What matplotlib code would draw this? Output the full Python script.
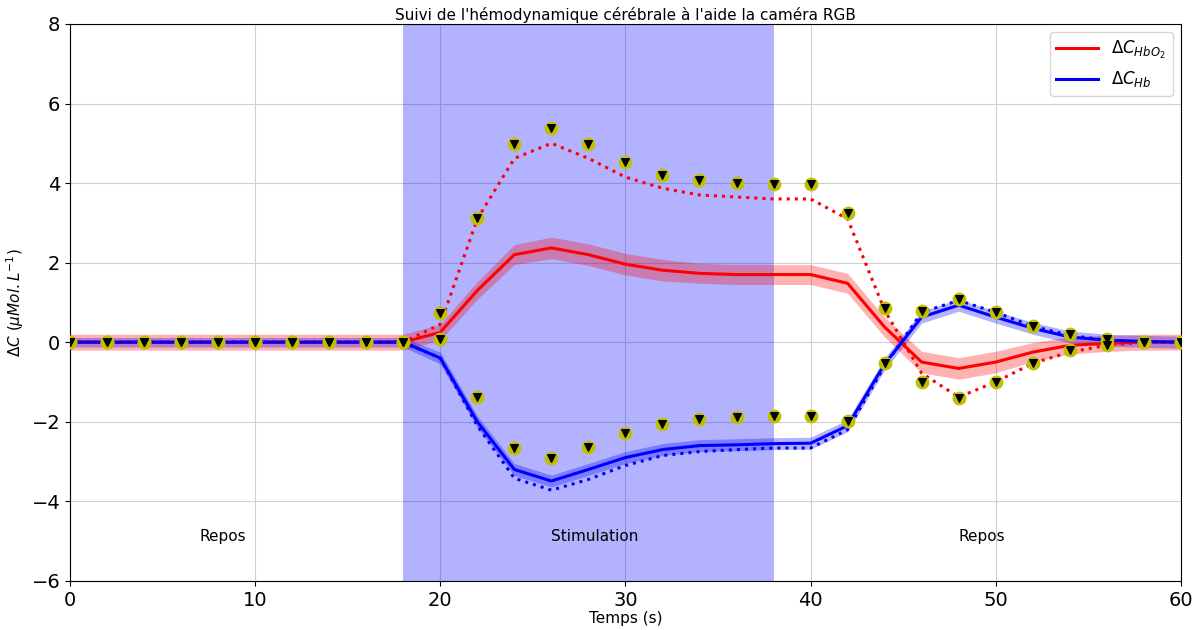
import numpy as np
import matplotlib
matplotlib.use('Agg')
import matplotlib.pyplot as plt

# temps (s), un point toutes les 2 s
temps = np.arange(0, 61, 2)

# moyenne HbO2 / Hb (traits pleins)
hbo2_moy = [0, 0, 0, 0, 0, 0, 0, 0, 0, 0,
            0.25, 1.3, 2.2, 2.37, 2.2, 1.96, 1.81, 1.73, 1.7, 1.7,
            1.7, 1.48, 0.38, -0.5, -0.66, -0.5, -0.25, -0.08, -0.03, 0, 0]
hb_moy = [0, 0, 0, 0, 0, 0, 0, 0, 0, 0,
          -0.4, -2.0, -3.2, -3.49, -3.2, -2.9, -2.7, -2.6, -2.58, -2.55,
          -2.54, -2.1, -0.55, 0.63, 0.93, 0.63, 0.35, 0.13, 0.05, 0.02, 0]
# ecart-type (bande)
hbo2_std = [0.2] * 10 + [0.2, 0.22, 0.25, 0.27, 0.27, 0.27, 0.27, 0.25, 0.25, 0.25,
                         0.25, 0.25, 0.25, 0.27, 0.27, 0.27, 0.24, 0.22, 0.2, 0.2, 0.2]
hb_std = [0.12] * 10 + [0.15] * 21

# modele (pointilles)
hbo2_mod = [0, 0, 0, 0, 0, 0, 0, 0, 0, 0,
            0.45, 3.1, 4.62, 5.0, 4.62, 4.15, 3.87, 3.7, 3.65, 3.6,
            3.6, 3.1, 0.8, -0.78, -1.38, -1.0, -0.53, -0.25, -0.08, 0, 0]
hb_mod = [0, 0, 0, 0, 0, 0, 0, 0, 0, 0,
          -0.4, -2.1, -3.42, -3.72, -3.45, -3.1, -2.85, -2.75, -2.7, -2.66,
          -2.66, -2.2, -0.6, 0.75, 1.05, 0.75, 0.4, 0.17, 0.05, 0, 0]

# mesures camera RGB (marqueurs)
hbo2_rgb = [0, 0, 0, 0, 0, 0, 0, 0, 0, 0,
            0.73, 3.12, 4.97, 5.38, 4.97, 4.52, 4.2, 4.07, 4.0, 3.97,
            3.97, 3.24, 0.85, -1.0, -1.41, -1.0, -0.53, -0.2, -0.08, 0, 0]
hb_rgb = [0, 0, 0, 0, 0, 0, 0, 0, 0, 0,
          0.07, -1.38, -2.66, -2.92, -2.63, -2.28, -2.06, -1.92, -1.88, -1.85,
          -1.85, -1.98, -0.53, 0.78, 1.08, 0.75, 0.4, 0.2, 0.07, 0, 0]

stim_debut, stim_fin = 18, 38
phases = ['Repos', 'Stimulation', 'Repos']
phases_x = [7, 26, 48]

fig = plt.figure(figsize=(11.97, 6.3), dpi=100)
ax = fig.add_axes([0.0585, 0.078, 0.928, 0.884])

ax.axvspan(stim_debut, stim_fin, color='blue', alpha=0.3, lw=0)

hbo2_moy = np.array(hbo2_moy)
hb_moy = np.array(hb_moy)
hbo2_std = np.array(hbo2_std)
hb_std = np.array(hb_std)

ax.fill_between(temps, hbo2_moy - hbo2_std, hbo2_moy + hbo2_std, color='red', alpha=0.3, lw=0)
ax.fill_between(temps, hb_moy - hb_std, hb_moy + hb_std, color='blue', alpha=0.3, lw=0)

ax.plot(temps, hbo2_mod, color='red', ls=':', lw=2.2)
ax.plot(temps, hb_mod, color='blue', ls=':', lw=2.2)
ax.plot(temps, hbo2_moy, color='red', lw=2.2, label=r'$\Delta C_{HbO_2}$')
ax.plot(temps, hb_moy, color='blue', lw=2.2, label=r'$\Delta C_{Hb}$')

for serie in (hbo2_rgb, hb_rgb):
    ax.scatter(temps, serie, s=80, color='#c0c000', zorder=5)
    ax.scatter(temps, serie, s=30, marker='v', color='black', zorder=6)

for nom, px in zip(phases, phases_x):
    ax.text(px, -5, nom, fontsize=11)

ax.set_xlim(0, 60)
ax.set_ylim(-6, 8)
ax.grid(True, color='#d0d0d0')
ax.set_axisbelow(True)
ax.tick_params(labelsize=14)
ax.set_title("Suivi de l'hémodynamique cérébrale à l'aide la caméra RGB", fontsize=11, pad=3)
ax.set_xlabel('Temps (s)', fontsize=11, labelpad=1)
ax.set_ylabel(r'$\Delta C\ (\mu Mol.L^{-1})$', fontsize=11)
ax.legend(loc='upper right', fontsize=12, handlelength=2.5)

fig.savefig('out.png', dpi=100)
